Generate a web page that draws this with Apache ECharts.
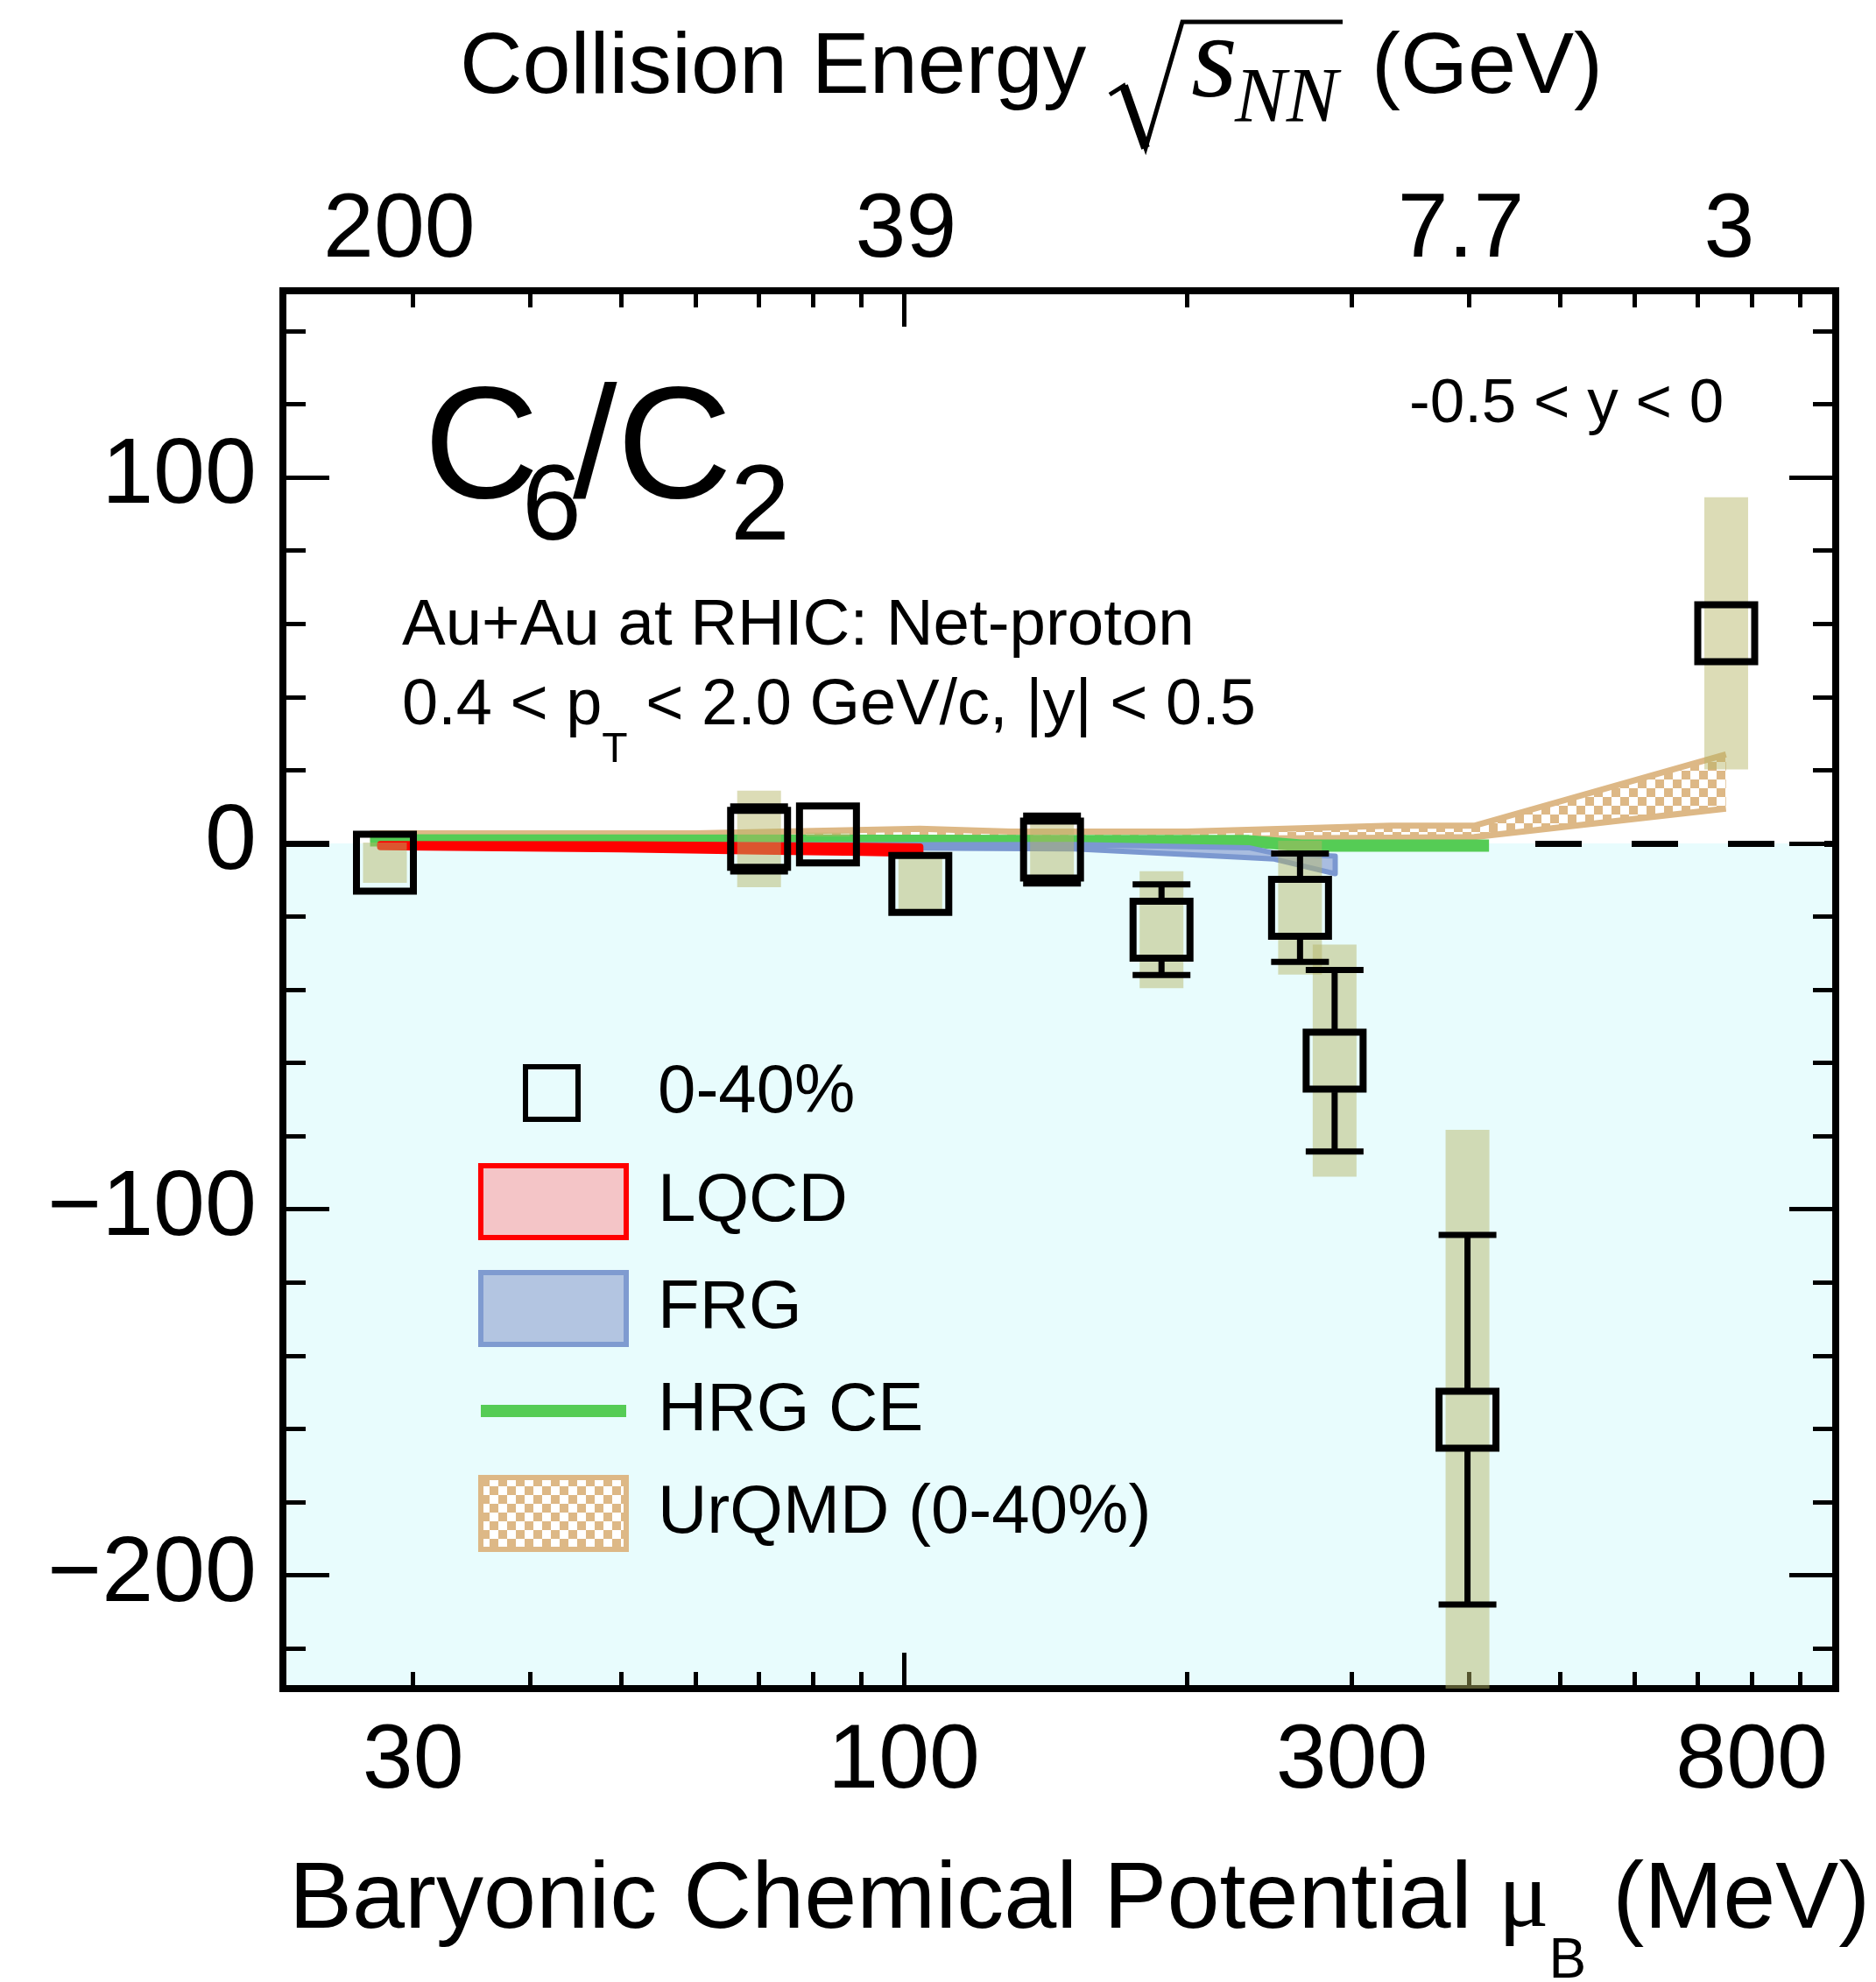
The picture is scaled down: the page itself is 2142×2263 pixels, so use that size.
<!DOCTYPE html>
<html>
<head>
<meta charset="utf-8">
<title>C6/C2 net-proton</title>
<script src="https://cdn.jsdelivr.net/npm/echarts@6.0.0/dist/echarts.min.js"></script>
<style>
    html, body { margin: 0; padding: 0; background: #ffffff; }
    #echarts { width: 2142px; height: 2263px; }
</style>
</head>
<body>
<div id="echarts"></div>
<script>
// measured points, 0-40% centrality (x = baryonic chemical potential in MeV)
var muB     = [28.0, 70.1, 83.0, 104.1, 143.8, 188.1, 264.2, 287.6, 398.4, 751.5];
var c6c2    = [-5.3, 1.2, 2.4, -11.1, -1.7, -23.6, -17.6, -59.4, -157.5, 57.4];
var statErr = [3, 8.9, 2, 4, 9.3, 12.4, 14.8, 24.8, 50.5, 6];
var sysErr  = [5.5, 13.2, 0.5, 8, 8, 16, 18.3, 31.7, 79.2, 37.2];

// model bands (lower / upper edge)
var lqcdMu = [27.7, 50, 70, 90, 104];
var lqcdLo = [-0.9, -1.5, -2.1, -2.5, -2.8];
var lqcdHi = [-0.3, -0.4, -0.6, -0.8, -1.0];

var frgMu = [27.7, 100, 152, 233, 248, 288];
var frgLo = [-1.0, -1.3, -1.5, -3.9, -4.3, -8.3];
var frgHi = [-0.4, -0.4, -0.3, -1.2, -2.7, -3.5];

var hrgMu  = [27, 100, 150, 233, 265, 420];
var hrgVal = [0.8, 0.7, 0.6, 0.6, -0.6, -0.6];

var urqmdMu = [27, 60, 104, 130, 200, 330, 405, 751];
var urqmdLo = [1.2, 1.2, 1.5, 1.2, 1.2, 1.5, 1.7, 9.5];
var urqmdHi = [2.7, 2.7, 4.0, 3.2, 3.2, 4.8, 4.8, 24.3];

// axis ticks and labels
var minorMu = [30, 40, 50, 60, 70, 80, 90, 200, 300, 400, 500, 600, 700, 800, 900];
var majorMu = [100];
var bottomLabelMu = [30, 100, 300, 800];
var topLabelMu = [29, 100.5, 392, 757];
var topLabelText = ['200', '39', '7.7', '3'];
var yMajor = [-200, -100, 0, 100];
var yMinor = [-220, -180, -160, -140, -120, -80, -60, -40, -20, 20, 40, 60, 80, 120, 140];

var X_MIN = Math.log10(21.8), X_MAX = Math.log10(983);
var Y_MIN = -231, Y_MAX = 151;
var FONT = 'Liberation Sans';

function lg(list) {
    return list.map(function (v) { return Math.log10(v); });
}

// checker pattern for the UrQMD band
function checker() {
    var c = document.createElement('canvas');
    c.width = 20; c.height = 20;
    var g = c.getContext('2d');
    g.fillStyle = '#ffffff'; g.fillRect(0, 0, 20, 20);
    g.fillStyle = '#ddb886';
    g.fillRect(0, 0, 10, 10); g.fillRect(10, 10, 10, 10);
    return c;
}
var urqmdFill = { image: checker(), repeat: 'repeat' };

function bandSeries(name, mu, lo, hi, fill, stroke, lw, z, edgesOnly) {
    return {
        name: name, type: 'custom', z: z, silent: true, clip: true,
        data: mu.map(function (m, i) { return [Math.log10(m), lo[i], hi[i]]; }),
        encode: { x: 0, y: [1, 2] },
        renderItem: function (params, api) {
            if (params.dataIndex !== 0) return null;
            var up = [], dn = [];
            for (var i = 0; i < mu.length; i++) {
                up.push(api.coord([Math.log10(mu[i]), hi[i]]));
                dn.push(api.coord([Math.log10(mu[i]), lo[i]]));
            }
            var poly = up.concat(dn.slice().reverse());
            if (!edgesOnly) {
                return { type: 'polygon', shape: { points: poly },
                    style: { fill: fill, stroke: stroke, lineWidth: lw, lineJoin: 'round' } };
            }
            return { type: 'group', children: [
                { type: 'polygon', shape: { points: poly }, style: { fill: fill } },
                { type: 'polyline', shape: { points: up }, style: { fill: 'none', stroke: stroke, lineWidth: lw } },
                { type: 'polyline', shape: { points: dn }, style: { fill: 'none', stroke: stroke, lineWidth: lw } }
            ] };
        }
    };
}

function xAxisDef(position, tickMu, tickLen, label) {
    return {
        type: 'value', position: position, min: X_MIN, max: X_MAX,
        axisLine: { show: !!label, onZero: false, lineStyle: { color: '#000', width: 8, cap: 'square' } },
        axisTick: { show: true, inside: true, length: tickLen, customValues: lg(tickMu),
            lineStyle: { color: '#000', width: 5 } },
        axisLabel: label ? label : { show: false },
        splitLine: { show: false }
    };
}

function yAxisDef(position, ticks, tickLen, label, line) {
    return {
        type: 'value', position: position, min: Y_MIN, max: Y_MAX,
        axisLine: { show: line, onZero: false, lineStyle: { color: '#000', width: 8, cap: 'square' } },
        axisTick: { show: true, inside: true, length: tickLen, customValues: ticks,
            lineStyle: { color: '#000', width: 5 } },
        axisLabel: label ? label : { show: false },
        splitLine: { show: false }
    };
}

var bottomLabel = {
    show: true, customValues: lg(bottomLabelMu), margin: 32,
    fontFamily: FONT, fontSize: 104, color: '#000',
    formatter: function (v) { return String(Math.round(Math.pow(10, v))); }
};
var topLabel = {
    show: true, customValues: lg(topLabelMu), margin: 16,
    fontFamily: FONT, fontSize: 104, color: '#000',
    formatter: function (v) {
        for (var i = 0; i < topLabelMu.length; i++) {
            if (Math.abs(Math.log10(topLabelMu[i]) - v) < 1e-6) return topLabelText[i];
        }
        return '';
    }
};
var leftLabel = {
    show: true, customValues: yMajor, margin: 30,
    fontFamily: FONT, fontSize: 106, color: '#000',
    formatter: function (v) { return v < 0 ? '\u2212' + (-v) : String(v); }
};

var chart = echarts.init(document.getElementById('echarts'));

var option = {
    animation: false,
    backgroundColor: '#ffffff',
    grid: { left: 323, right: 46, top: 332, bottom: 335, outerBoundsMode: 'none' },
    xAxis: [
        xAxisDef('bottom', minorMu, 19, bottomLabel),
        xAxisDef('bottom', majorMu, 41, null),
        xAxisDef('top', minorMu, 19, topLabel),
        xAxisDef('top', majorMu, 41, null)
    ],
    yAxis: [
        yAxisDef('left', yMajor, 53, leftLabel, true),
        yAxisDef('left', yMinor, 26, null, false),
        yAxisDef('right', yMajor, 53, null, true),
        yAxisDef('right', yMinor, 26, null, false)
    ],
    legend: [
        {
            orient: 'vertical', left: 597, top: 1209, padding: 0,
            itemWidth: 60, itemHeight: 60, selectedMode: false,
            textStyle: { fontFamily: FONT, fontSize: 78, color: '#000', lineHeight: 78, padding: [0, 0, 0, 86] },
            data: [{ name: '0-40%', icon: 'rect',
                itemStyle: { color: 'rgba(0,0,0,0)', borderColor: '#000', borderWidth: 6, opacity: 1 } }]
        },
        {
            orient: 'vertical', left: 546, top: 1328, padding: 0,
            itemWidth: 166, itemHeight: 82, itemGap: 34, selectedMode: false,
            textStyle: { fontFamily: FONT, fontSize: 78, color: '#000', lineHeight: 78, padding: [0, 0, 0, 31] },
            data: [
                { name: 'LQCD', icon: 'rect', itemStyle: { color: '#f4c5c7', borderColor: '#ff0000', borderWidth: 6 } },
                { name: 'FRG', icon: 'rect', itemStyle: { color: '#b3c5e1', borderColor: '#7f9bd0', borderWidth: 6 } },
                { name: 'HRG CE', icon: 'path://M0,0H166V14H0Z', itemStyle: { color: '#55cc55', borderWidth: 0 } },
                { name: 'UrQMD (0-40%)', icon: 'rect', itemStyle: { color: urqmdFill, borderColor: '#ddb886', borderWidth: 6 } }
            ]
        }
    ],
    series: [
        {   // cyan region below zero
            name: 'bg', type: 'scatter', z: 0, silent: true, symbolSize: 0,
            data: [[X_MIN, 0]],
            markArea: { silent: true, z: 0, itemStyle: { color: '#e8fcfd' },
                data: [[{ yAxis: 0 }, { yAxis: Y_MIN }]] }
        },
        {   // dashed zero line
            name: 'zero', type: 'scatter', z: 1, silent: true, symbolSize: 0,
            data: [[X_MIN, 0]],
            markLine: { silent: true, z: 1, symbol: ['none', 'none'], label: { show: false },
                lineStyle: { color: '#000', width: 7, type: [53, 57] },
                data: [{ yAxis: 0 }] }
        },
        bandSeries('UrQMD (0-40%)', urqmdMu, urqmdLo, urqmdHi, urqmdFill, '#ddb886', 7, 2, true),
        {
            name: 'HRG CE', type: 'line', z: 3, silent: true, symbol: 'none', showSymbol: false,
            data: hrgMu.map(function (m, i) { return [Math.log10(m), hrgVal[i]]; }),
            lineStyle: { color: '#55cc55', width: 14 },
            itemStyle: { color: '#55cc55' }
        },
        bandSeries('FRG', frgMu, frgLo, frgHi, '#a9bde0', '#7b98d0', 6, 4, false),
        bandSeries('LQCD', lqcdMu, lqcdLo, lqcdHi, '#f4c5c7', '#ff0000', 8, 5, false),
        {   // systematic boxes
            name: 'sys', type: 'custom', z: 6, silent: true, clip: true,
            data: muB.map(function (m, i) { return [Math.log10(m), c6c2[i], sysErr[i]]; }),
            encode: { x: 0, y: 1 },
            renderItem: function (params, api) {
                var x = api.value(0), y = api.value(1), e = api.value(2);
                var top = api.coord([x, y + e]), bot = api.coord([x, y - e]);
                return { type: 'rect',
                    shape: { x: top[0] - 25, y: top[1], width: 50, height: bot[1] - top[1] },
                    style: { fill: 'rgba(180,180,100,0.47)' } };
            }
        },
        {   // statistical error bars, drawn outside the marker only
            name: 'stat', type: 'custom', z: 7, silent: true, clip: true,
            data: muB.map(function (m, i) { return [Math.log10(m), c6c2[i], statErr[i]]; }),
            encode: { x: 0, y: 1 },
            renderItem: function (params, api) {
                var x = api.value(0), y = api.value(1), e = api.value(2);
                var c = api.coord([x, y]), hi = api.coord([x, y + e]), lo = api.coord([x, y - e]);
                var half = 36, cap = 33, st = { stroke: '#000', lineWidth: 7 };
                var kids = [];
                if (c[1] - hi[1] > half) {
                    kids.push({ type: 'line', shape: { x1: c[0], y1: hi[1], x2: c[0], y2: c[1] - half }, style: st });
                    kids.push({ type: 'line', shape: { x1: c[0] - cap, y1: hi[1], x2: c[0] + cap, y2: hi[1] }, style: st });
                }
                if (lo[1] - c[1] > half) {
                    kids.push({ type: 'line', shape: { x1: c[0], y1: c[1] + half, x2: c[0], y2: lo[1] }, style: st });
                    kids.push({ type: 'line', shape: { x1: c[0] - cap, y1: lo[1], x2: c[0] + cap, y2: lo[1] }, style: st });
                }
                return { type: 'group', children: kids };
            }
        },
        {
            name: '0-40%', type: 'scatter', z: 8, silent: true,
            symbol: 'rect', symbolSize: 65,
            data: muB.map(function (m, i) { return [Math.log10(m), c6c2[i]]; }),
            itemStyle: { color: 'rgba(0,0,0,0)', borderColor: '#000', borderWidth: 8, opacity: 1 }
        }
    ],
    graphic: [
        // top axis title
        { type: 'text', x: 525, y: 79, z: 20, style: { text: 'Collision Energy', fontFamily: FONT, fontSize: 99, fill: '#000', align: 'left', verticalAlign: 'middle' } },
        { type: 'polyline', z: 20, shape: { points: [[1267, 108], [1283, 98], [1308, 169], [1350, 25], [1533, 25]] }, style: { fill: 'none', stroke: '#000', lineWidth: 5 } },
        { type: 'line', z: 20, shape: { x1: 1283, y1: 98, x2: 1308, y2: 169 }, style: { stroke: '#000', lineWidth: 10 } },
        { type: 'text', x: 1360, y: 74, z: 20, style: { text: 's', fontFamily: 'Liberation Serif', fontStyle: 'italic', fontSize: 136, fill: '#000', align: 'left', verticalAlign: 'middle' } },
        { type: 'text', x: 1410, y: 115, z: 20, style: { text: 'NN', fontFamily: 'Liberation Serif', fontStyle: 'italic', fontSize: 88, fill: '#000', align: 'left', verticalAlign: 'middle' } },
        { type: 'text', x: 1566, y: 79, z: 20, style: { text: '(GeV)', fontFamily: FONT, fontSize: 99, fill: '#000', align: 'left', verticalAlign: 'middle' } },
        // bottom axis title
        { type: 'text', x: 330, y: 2171, z: 20, style: {
            text: 'Baryonic Chemical Potential {mu|\u03bc}{sub|B} (MeV)',
            fontFamily: FONT, fontSize: 108, fill: '#000', align: 'left', verticalAlign: 'middle',
            rich: {
                mu: { fontFamily: 'Liberation Serif', fontSize: 108, fill: '#000' },
                sub: { fontFamily: FONT, fontSize: 64, fill: '#000', padding: [138, 0, 0, 0] }
            } } },
        // C6/C2 label
        { type: 'text', x: 484, y: 518, z: 20, style: { text: 'C', fontFamily: FONT, fontSize: 182, fill: '#000', align: 'left', verticalAlign: 'middle' } },
        { type: 'text', x: 596, y: 582, z: 20, style: { text: '6', fontFamily: FONT, fontSize: 122, fill: '#000', align: 'left', verticalAlign: 'middle' } },
        { type: 'text', x: 654, y: 518, z: 20, style: { text: '/C', fontFamily: FONT, fontSize: 182, fill: '#000', align: 'left', verticalAlign: 'middle' } },
        { type: 'text', x: 834, y: 582, z: 20, style: { text: '2', fontFamily: FONT, fontSize: 122, fill: '#000', align: 'left', verticalAlign: 'middle' } },
        // system and cuts
        { type: 'text', x: 459, y: 715, z: 20, style: { text: 'Au+Au at RHIC: Net-proton', fontFamily: FONT, fontSize: 74.5, fill: '#000', align: 'left', verticalAlign: 'middle' } },
        { type: 'text', x: 459, y: 807, z: 20, style: {
            text: '0.4 < p{t|T} < 2.0 GeV/c, |y| < 0.5',
            fontFamily: FONT, fontSize: 74, fill: '#000', align: 'left', verticalAlign: 'middle',
            rich: { t: { fontFamily: FONT, fontSize: 48, fill: '#000', padding: [100, 0, 0, 0] } } } },
        { type: 'text', x: 1609, y: 462, z: 20, style: { text: '-0.5 < y < 0', fontFamily: FONT, fontSize: 71, fill: '#000', align: 'left', verticalAlign: 'middle' } }
    ]
};

chart.setOption(option);
</script>
</body>
</html>
